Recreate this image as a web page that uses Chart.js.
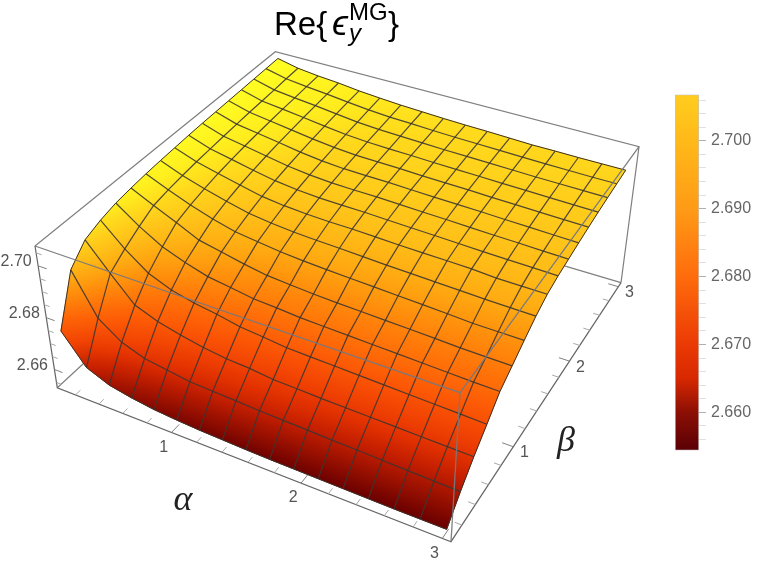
<!DOCTYPE html>
<html>
<head>
<meta charset="utf-8">
<script src="https://cdn.jsdelivr.net/npm/chart.js@4/dist/chart.umd.min.js"></script>
<style>
  html, body { margin: 0; padding: 0; background: #fff; }
  #wrap { position: relative; width: 763px; height: 563px; overflow: hidden; }
  canvas { position: absolute; }
</style>
</head>
<body>
<div id="wrap">
  <canvas id="surface" width="763" height="563" style="left:0;top:0"></canvas>
  <canvas id="legend" width="103" height="385" style="left:660px;top:80px"></canvas>
</div>
<script>
var alphaGrid = [0.1, 0.28125, 0.4625, 0.64375, 0.825, 1.00625, 1.1875, 1.36875, 1.55, 1.73125, 1.9125, 2.09375, 2.275, 2.45625, 2.6375, 2.81875, 3];
var betaGrid = [0.1, 0.28125, 0.4625, 0.64375, 0.825, 1.00625, 1.1875, 1.36875, 1.55, 1.73125, 1.9125, 2.09375, 2.275, 2.45625, 2.6375, 2.81875, 3];

// one row per alpha, one column per beta
var zGrid = [
  [2.6740,2.6921,2.6984,2.7008,2.7024,2.7033,2.7040,2.7045,2.7049,2.7053,2.7056,2.7058,2.7060,2.7062,2.7064,2.7066,2.7068],
  [2.6630,2.6764,2.6882,2.6924,2.6960,2.6991,2.7003,2.7011,2.7018,2.7023,2.7028,2.7032,2.7036,2.7039,2.7042,2.7046,2.7049],
  [2.6594,2.6701,2.6789,2.6858,2.6908,2.6951,2.6970,2.6985,2.6997,2.7006,2.7013,2.7019,2.7024,2.7029,2.7032,2.7036,2.7039],
  [2.6577,2.6670,2.6755,2.6822,2.6875,2.6910,2.6942,2.6962,2.6977,2.6988,2.6998,2.7006,2.7012,2.7018,2.7023,2.7028,2.7032],
  [2.6565,2.6657,2.6734,2.6801,2.6849,2.6892,2.6919,2.6941,2.6958,2.6972,2.6983,2.6992,2.7000,2.7007,2.7013,2.7018,2.7022],
  [2.6558,2.6644,2.6717,2.6788,2.6836,2.6873,2.6908,2.6930,2.6948,2.6962,2.6973,2.6982,2.6990,2.6997,2.7003,2.7009,2.7015],
  [2.6553,2.6640,2.6705,2.6770,2.6822,2.6858,2.6897,2.6922,2.6942,2.6956,2.6967,2.6976,2.6984,2.6991,2.6997,2.7003,2.7009],
  [2.6550,2.6636,2.6700,2.6762,2.6817,2.6851,2.6890,2.6918,2.6939,2.6954,2.6965,2.6974,2.6982,2.6988,2.6994,2.7000,2.7005],
  [2.6547,2.6632,2.6690,2.6752,2.6810,2.6845,2.6885,2.6915,2.6938,2.6953,2.6964,2.6973,2.6980,2.6986,2.6991,2.6996,2.7001],
  [2.6545,2.6629,2.6687,2.6749,2.6807,2.6841,2.6881,2.6911,2.6935,2.6950,2.6961,2.6970,2.6977,2.6983,2.6988,2.6993,2.6998],
  [2.6544,2.6626,2.6684,2.6746,2.6804,2.6838,2.6877,2.6907,2.6932,2.6947,2.6958,2.6967,2.6975,2.6981,2.6986,2.6991,2.6996],
  [2.6543,2.6623,2.6682,2.6743,2.6801,2.6835,2.6873,2.6904,2.6930,2.6945,2.6956,2.6965,2.6973,2.6979,2.6984,2.6989,2.6993],
  [2.6542,2.6621,2.6680,2.6740,2.6798,2.6832,2.6869,2.6901,2.6928,2.6942,2.6953,2.6963,2.6970,2.6977,2.6982,2.6987,2.6990],
  [2.6541,2.6618,2.6678,2.6737,2.6795,2.6829,2.6865,2.6898,2.6926,2.6939,2.6950,2.6960,2.6968,2.6975,2.6980,2.6985,2.6990],
  [2.6540,2.6615,2.6676,2.6734,2.6792,2.6825,2.6860,2.6895,2.6920,2.6937,2.6948,2.6958,2.6966,2.6973,2.6979,2.6984,2.6989],
  [2.6540,2.6612,2.6674,2.6731,2.6789,2.6823,2.6859,2.6893,2.6919,2.6935,2.6945,2.6955,2.6964,2.6971,2.6978,2.6983,2.6989],
  [2.6540,2.6610,2.6672,2.6728,2.6787,2.6822,2.6858,2.6892,2.6918,2.6933,2.6943,2.6953,2.6962,2.6970,2.6977,2.6983,2.6989]
];

var alphaTicks = [1, 2, 3];
var betaTicks = [1, 2, 3];
var zTicks = [2.66, 2.68, 2.70];

// colour ramps, z level -> rgb
var surfaceLevels = [2.654, 2.663, 2.6665, 2.670, 2.675, 2.680, 2.685, 2.690, 2.695, 2.699, 2.7022, 2.7066];
var surfaceColors = [[105,0,0],[195,30,0],[225,48,0],[240,65,3],[252,88,5],[255,112,8],[255,142,12],[255,172,18],[255,195,25],[255,215,28],[255,238,30],[255,255,35]];
var barLevels = [2.6544, 2.660, 2.665, 2.670, 2.680, 2.690, 2.700, 2.7068];
var barColors = [[90,0,5],[140,15,5],[215,40,0],[235,58,5],[255,108,12],[255,155,22],[255,185,25],[255,205,30]];

// box extent in data units and the pixels of its 8 corners (camera)
var aRange = [0.042, 3.058], bRange = [0.042, 3.058], zRange = [2.65295, 2.70765];
var floorCorners = [[57.3,387.7],[451,541.7],[621,282.7],[279.8,181.7]];
var roofCorners = [[35,246],[460,392.7],[639,146.7],[275.3,51.7]];

function homography(q) {
  var dx1 = q[1][0]-q[2][0], dx2 = q[3][0]-q[2][0], sx = q[0][0]-q[1][0]+q[2][0]-q[3][0];
  var dy1 = q[1][1]-q[2][1], dy2 = q[3][1]-q[2][1], sy = q[0][1]-q[1][1]+q[2][1]-q[3][1];
  var den = dx1*dy2-dx2*dy1;
  var g = (sx*dy2-dx2*sy)/den, h = (dx1*sy-sx*dy1)/den;
  return function (u, v) {
    var w = g*u+h*v+1;
    return [((q[1][0]-q[0][0]+g*q[1][0])*u+(q[3][0]-q[0][0]+h*q[3][0])*v+q[0][0])/w,
            ((q[1][1]-q[0][1]+g*q[1][1])*u+(q[3][1]-q[0][1]+h*q[3][1])*v+q[0][1])/w];
  };
}
var floorMap = homography(floorCorners), roofMap = homography(roofCorners);

function project(a, b, z) {
  var u = (a-aRange[0])/(aRange[1]-aRange[0]);
  var v = (b-bRange[0])/(bRange[1]-bRange[0]);
  var t = (z-zRange[0])/(zRange[1]-zRange[0]);
  var p = floorMap(u, v), q = roofMap(u, v);
  return {x: p[0]+(q[0]-p[0])*t, y: p[1]+(q[1]-p[1])*t};
}

function ramp(levels, colors, z) {
  var k = 0;
  while (k < levels.length-2 && z > levels[k+1]) k++;
  var f = Math.min(1, Math.max(0, (z-levels[k])/(levels[k+1]-levels[k])));
  var c = colors[k], d = colors[k+1];
  return 'rgb(' + Math.round(c[0]+(d[0]-c[0])*f) + ',' + Math.round(c[1]+(d[1]-c[1])*f) + ',' + Math.round(c[2]+(d[2]-c[2])*f) + ')';
}

// linear gradient across one mesh cell, running along its screen-space z slope
function cellPaint(c, i, j) {
  var chart = c.chart, sx = chart.scales.x, sy = chart.scales.y;
  var P = [[i,j],[i+1,j],[i+1,j+1],[i,j+1]].map(function (n) {
    var p = project(alphaGrid[n[0]], betaGrid[n[1]], zGrid[n[0]][n[1]]);
    return {x: sx.getPixelForValue(p.x), y: sy.getPixelForValue(p.y), z: zGrid[n[0]][n[1]]};
  });
  var e1 = [(P[1].x+P[2].x-P[0].x-P[3].x)/2, (P[1].y+P[2].y-P[0].y-P[3].y)/2], d1 = (P[1].z+P[2].z-P[0].z-P[3].z)/2;
  var e2 = [(P[3].x+P[2].x-P[0].x-P[1].x)/2, (P[3].y+P[2].y-P[0].y-P[1].y)/2], d2 = (P[3].z+P[2].z-P[0].z-P[1].z)/2;
  var det = e1[0]*e2[1]-e1[1]*e2[0];
  var gx = (d1*e2[1]-d2*e1[1])/det, gy = (e1[0]*d2-e2[0]*d1)/det;
  var n2 = gx*gx+gy*gy;
  var zs = P.map(function (q) { return q.z; });
  var lo = Math.min.apply(null, zs), hi = Math.max.apply(null, zs), zc = (P[0].z+P[1].z+P[2].z+P[3].z)/4;
  var cx = (P[0].x+P[1].x+P[2].x+P[3].x)/4, cy = (P[0].y+P[1].y+P[2].y+P[3].y)/4;
  if (!(n2 > 0)) return ramp(surfaceLevels, surfaceColors, zc);
  var grad = chart.ctx.createLinearGradient(cx+(lo-zc)*gx/n2, cy+(lo-zc)*gy/n2, cx+(hi-zc)*gx/n2, cy+(hi-zc)*gy/n2);
  for (var k = 0; k <= 4; k++) grad.addColorStop(k/4, ramp(surfaceLevels, surfaceColors, lo+(hi-lo)*k/4));
  return grad;
}

var datasets = [];
function addLine(points, color, width) {
  datasets.push({data: points, borderColor: color, borderWidth: width, fill: false, pointRadius: 0, tension: 0, order: -datasets.length});
}
function addCell(i, j) {
  var pts = [[i,j],[i+1,j],[i+1,j+1],[i,j+1],[i,j]].map(function (n) {
    return project(alphaGrid[n[0]], betaGrid[n[1]], zGrid[n[0]][n[1]]);
  });
  var paint = function (c) { return cellPaint(c, i, j); };
  datasets.push({data: pts, fill: 'shape', backgroundColor: paint, borderColor: paint, borderWidth: 0.8, pointRadius: 0, tension: 0, order: -datasets.length});
}

var boxGray = '#808080', axisGray = '#666666', meshColor = 'rgba(58,52,48,0.88)', edgeColor = '#3a3028';
var A0 = aRange[0], A1 = aRange[1], B0 = bRange[0], B1 = bRange[1], Z0 = zRange[0], Z1 = zRange[1];

// back of the box, behind the surface
addLine([project(A0,B0,Z1), project(A0,B1,Z1), project(A1,B1,Z1), project(A1,B1,Z0)], boxGray, 1.2);
addLine([project(A0,B0,Z0), project(A0,B1,Z0), project(A1,B1,Z0)], boxGray, 1.2);

// axes and tick marks
addLine([project(A0,B0,Z1), project(A0,B0,Z0), project(A1,B0,Z0), project(A1,B1,Z0)], axisGray, 1.2);
function isMajor(v, list) { return list.some(function (m) { return Math.abs(m-v) < 1e-6; }); }
for (var n = 1; n <= 15; n++) {
  var v = n*0.2, major = isMajor(v, alphaTicks);
  addLine([project(v,B0,Z0), project(v,B0+(major?0.09:0.055),Z0)], major ? '#808080' : '#a8a8a8', 1);
  major = isMajor(v, betaTicks);
  addLine([project(A1,v,Z0), project(A1-(major?0.08:0.05),v,Z0)], major ? '#808080' : '#a8a8a8', 1);
}
for (var m = 0; m <= 10; m++) {
  var zt = 2.655+m*0.005, zMajor = isMajor(zt, zTicks);
  addLine([project(A0,B0,zt), project(A0+(zMajor?0.07:0.045),B0,zt)], zMajor ? '#808080' : '#a8a8a8', 1);
}

// surface cells, far to near
for (var j = betaGrid.length-2; j >= 0; j--) {
  for (var i = 0; i < alphaGrid.length-1; i++) addCell(i, j);
}

// mesh lines
function alongBeta(i) { return betaGrid.map(function (b, j) { return project(alphaGrid[i], b, zGrid[i][j]); }); }
function alongAlpha(j) { return alphaGrid.map(function (a, i) { return project(a, betaGrid[j], zGrid[i][j]); }); }
for (var s = 1; s < alphaGrid.length-1; s++) {
  addLine(alongBeta(s), meshColor, 1.2);
  addLine(alongAlpha(s), meshColor, 1.2);
}
addLine(alongBeta(0), edgeColor, 1);
addLine(alongBeta(alphaGrid.length-1), edgeColor, 1);
addLine(alongAlpha(0), edgeColor, 1);
addLine(alongAlpha(betaGrid.length-1), edgeColor, 1);

// front of the box, over the surface
addLine([project(A0,B0,Z1), project(A1,B0,Z1), project(A1,B1,Z1)], 'rgba(120,120,125,0.95)', 1.3);
addLine([project(A1,B0,Z1), project(A1,B0,Z0)], 'rgba(120,120,125,0.95)', 1.3);

var textPlugin = {
  id: 'plotText',
  afterDatasetsDraw: function (chart) {
    var c = chart.ctx, sx = chart.scales.x, sy = chart.scales.y;
    function put(text, x, y, font, color, align, base) {
      c.font = font; c.fillStyle = color; c.textAlign = align || 'center'; c.textBaseline = base || 'middle';
      c.fillText(text, sx.getPixelForValue(x), sy.getPixelForValue(y));
    }
    var tickFont = '16px "Liberation Sans"', tickColor = '#555555';
    alphaTicks.forEach(function (v) { var p = project(v, B0, Z0); put(String(v), p.x-8, p.y+15, tickFont, tickColor); });
    betaTicks.forEach(function (v) { var p = project(A1, v, Z0); put(String(v), p.x+11, p.y+6, tickFont, tickColor); });
    zTicks.forEach(function (v) { var p = project(A0, B0, v); put(v.toFixed(2), p.x-22, p.y-4, tickFont, tickColor); });
    put('\u03B1', 183, 501, 'italic 36px "Liberation Serif"', '#222222');
    put('\u03B2', 566, 442, 'italic 36px "Liberation Serif"', '#222222');
    var big = '33px "Liberation Sans"', bigI = 'italic 36px "Liberation Sans"', small = '24px "Liberation Sans"', smallI = 'italic 24px "Liberation Sans"';
    put('Re{', 274, 35, big, '#000', 'left', 'alphabetic');
    put('\u03F5', 332, 35, bigI, '#000', 'left', 'alphabetic');
    put('MG', 349, 20, small, '#000', 'left', 'alphabetic');
    put('y', 349, 41, smallI, '#000', 'left', 'alphabetic');
    put('}', 388, 35, big, '#000', 'left', 'alphabetic');
  }
};

new Chart(document.getElementById('surface').getContext('2d'), {
  type: 'line',
  data: {datasets: datasets},
  plugins: [textPlugin],
  options: {
    responsive: false,
    animation: false,
    events: [],
    layout: {padding: 0},
    plugins: {legend: {display: false}, tooltip: {enabled: false}, title: {display: false}},
    scales: {
      x: {type: 'linear', min: 0, max: 763, display: false},
      y: {type: 'linear', min: 0, max: 563, reverse: true, display: false}
    }
  }
});

// colour bar with its own value axis
new Chart(document.getElementById('legend').getContext('2d'), {
  type: 'bar',
  data: {
    labels: [''],
    datasets: [{
      data: [[barLevels[0], barLevels[barLevels.length-1]]],
      barPercentage: 1,
      categoryPercentage: 1,
      borderWidth: 1,
      borderSkipped: false,
      borderColor: 'rgba(170,170,170,0.7)',
      backgroundColor: function (c) {
        var scale = c.chart.scales.y;
        if (!scale || !c.chart.chartArea) return '#ff9000';
        var top = scale.getPixelForValue(barLevels[barLevels.length-1]), bottom = scale.getPixelForValue(barLevels[0]);
        var grad = c.chart.ctx.createLinearGradient(0, bottom, 0, top);
        barLevels.forEach(function (z) {
          grad.addColorStop((z-barLevels[0])/(barLevels[barLevels.length-1]-barLevels[0]), ramp(barLevels, barColors, z));
        });
        return grad;
      }
    }]
  },
  options: {
    responsive: false,
    animation: false,
    events: [],
    layout: {padding: {left: 15, top: 9, bottom: 11.7, right: 0}},
    plugins: {legend: {display: false}, tooltip: {enabled: false}},
    scales: {
      x: {display: false},
      y: {
        position: 'right',
        min: barLevels[0],
        max: barLevels[barLevels.length-1],
        afterFit: function (s) { s.width = 64; },
        border: {display: false},
        grid: {
          drawOnChartArea: false,
          tickLength: 7,
          tickColor: function (c) {
            var t = c.tick ? c.tick.value : 0;
            return Math.abs(t*100-Math.round(t*100)) < 1e-4 ? '#b0b0b0' : '#e0e0e0';
          }
        },
        ticks: {
          stepSize: 0.002,
          autoSkip: false,
          includeBounds: false,
          padding: 5,
          color: '#666666',
          font: {family: '"Liberation Sans"', size: 16},
          callback: function (v) {
            return Math.abs(v*100-Math.round(v*100)) < 1e-4 ? v.toFixed(3) : '';
          }
        }
      }
    }
  }
});
</script>
</body>
</html>
